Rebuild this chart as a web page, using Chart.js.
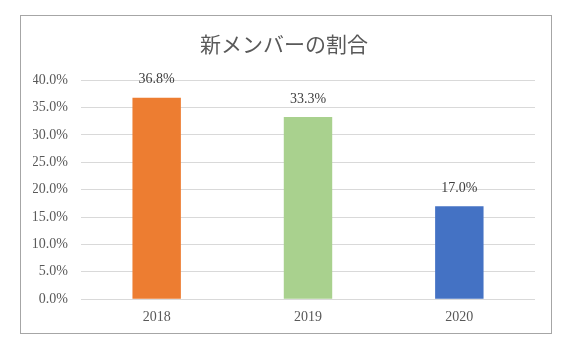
<!DOCTYPE html>
<html>
<head>
<meta charset="utf-8">
<script src="https://cdn.jsdelivr.net/npm/chart.js@4/dist/chart.umd.min.js"></script>
<style>
    body { margin: 0; background: #fff; }
    #frame {
        position: absolute;
        left: 20px; top: 15px;
        width: 530px; height: 317px;
        border: 1px solid #a6a6a6;
    }
</style>
</head>
<body>
<div id="frame"><canvas id="ratioChart" width="530" height="317"></canvas></div>
<script>
// Chart data
const years = ['2018', '2019', '2020'];
const ratios = [0.368, 0.333, 0.170];
const barColors = ['#ED7D31', '#A9D18E', '#4472C4'];
const tickFont = "'Liberation Serif', 'DejaVu Serif', serif";

// draws the value above each bar
const valueLabels = {
    id: 'valueLabels',
    afterDatasetsDraw(chart) {
        const ctx = chart.ctx;
        const meta = chart.getDatasetMeta(0);
        ctx.save();
        ctx.font = "14px " + tickFont;
        ctx.fillStyle = '#404040';
        ctx.textAlign = 'center';
        ctx.textBaseline = 'middle';
        meta.data.forEach((bar, i) => {
            ctx.fillText((ratios[i] * 100).toFixed(1) + '%', bar.x, bar.y - 18);
        });
        ctx.restore();
    }
};

const ratioChart = document.getElementById('ratioChart').getContext('2d');

new Chart(ratioChart, {
    type: 'bar',
    data: {
        labels: years,
        datasets: [
            {
                label: '新メンバーの割合',
                data: ratios,
                backgroundColor: barColors,
                borderWidth: 0,
                barPercentage: 0.32,
                categoryPercentage: 1
            }
        ]
    },
    options: {
        responsive: false,
        animation: false,
        layout: {
            padding: { left: 12, right: 16, top: 0, bottom: 5 }
        },
        plugins: {
            legend: { display: false },
            tooltip: { enabled: false },
            title: {
                display: true,
                text: '新メンバーの割合',
                color: '#595959',
                font: { family: "'Noto Sans CJK JP', sans-serif", size: 21, weight: 'normal' },
                padding: { top: 15, bottom: 24 }
            }
        },
        scales: {
            x: {
                grid: { display: false },
                border: { display: false },
                ticks: {
                    color: '#595959',
                    font: { family: tickFont, size: 14 },
                    padding: 2
                }
            },
            y: {
                min: 0,
                max: 0.4,
                afterFit(scale) { scale.width = 48; },
                grid: { color: '#d9d9d9', drawTicks: false },
                border: { display: false },
                ticks: {
                    stepSize: 0.05,
                    color: '#595959',
                    font: { family: tickFont, size: 14 },
                    padding: 13,
                    callback: (v) => (v * 100).toFixed(1) + '%'
                }
            }
        }
    },
    plugins: [valueLabels]
});
</script>
</body>
</html>
